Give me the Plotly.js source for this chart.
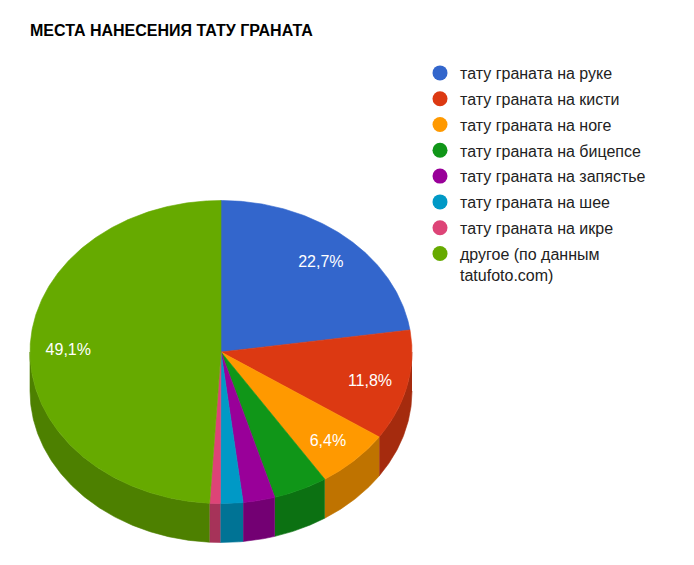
<!DOCTYPE html>
<html>
<head>
<meta charset="utf-8">
<script src="https://cdn.plot.ly/plotly-3.0.1.min.js"></script>
<style>
  html, body { margin: 0; padding: 0; background: #fff; }
  #chart { width: 694px; height: 565px; }
</style>
</head>
<body>
<div id="chart"></div>
<script>
// ---- data ----
const chartTitle = "МЕСТА НАНЕСЕНИЯ ТАТУ ГРАНАТА";
const categories = [
  "тату граната на руке",
  "тату граната на кисти",
  "тату граната на ноге",
  "тату граната на бицепсе",
  "тату граната на запястье",
  "тату граната на шее",
  "тату граната на икре",
  "другое (по данным tatufoto.com)"
];
const values = [22.7, 11.8, 6.4, 4.6, 2.7, 1.9, 0.9, 49.1];

// ---- styles ----
const colors = ["#3366cc", "#dc3912", "#ff9900", "#109618", "#990099", "#0099c6", "#dd4477", "#66aa00"];
const SIDE_FACTOR = 0.75;
const LABEL_MIN = 5;
const CX = 221, CY = 352, RX = 191, RY = 151.5, DEPTH = 39, LABEL_R = 0.8, LABEL_DY = 3;
const FONT = "Liberation Sans, Arial, sans-serif";

function darken(hex, f) {
  const n = parseInt(hex.slice(1), 16);
  const r = Math.round(((n >> 16) & 255) * f), g = Math.round(((n >> 8) & 255) * f), b = Math.round((n & 255) * f);
  return "rgb(" + r + "," + g + "," + b + ")";
}
function pt(t, dy) { return [CX + RX * Math.sin(t), CY - RY * Math.cos(t) + (dy || 0)]; }

const total = values.reduce((a, b) => a + b, 0);
const starts = [], ends = [];
let acc = 0;
values.forEach(v => { starts.push(acc / total * 2 * Math.PI); acc += v; ends.push(acc / total * 2 * Math.PI); });

const sideTraces = [], topTraces = [], legendTraces = [];
const STEP = Math.PI / 360;

values.forEach((v, i) => {
  // side wall (visible front half only)
  const a0 = Math.max(starts[i], Math.PI / 2), a1 = Math.min(ends[i], 3 * Math.PI / 2);
  if (a1 > a0) {
    const xs = [], ys = [];
    for (let t = a0; t < a1; t += STEP) { const p = pt(t); xs.push(p[0]); ys.push(p[1]); }
    let p = pt(a1); xs.push(p[0]); ys.push(p[1]);
    for (let t = a1; t > a0; t -= STEP) { const q = pt(t, DEPTH); xs.push(q[0]); ys.push(q[1]); }
    p = pt(a0, DEPTH); xs.push(p[0]); ys.push(p[1]);
    sideTraces.push({
      type: "scatter", mode: "lines", x: xs, y: ys, fill: "toself",
      fillcolor: darken(colors[i], SIDE_FACTOR),
      line: { color: darken(colors[i], SIDE_FACTOR), width: 0.6 },
      hoverinfo: "skip", showlegend: false
    });
  }
  // top face
  const xs = [CX], ys = [CY];
  for (let t = starts[i]; t < ends[i]; t += STEP) { const p = pt(t); xs.push(p[0]); ys.push(p[1]); }
  const pe = pt(ends[i]); xs.push(pe[0]); ys.push(pe[1]);
  xs.push(CX); ys.push(CY);
  topTraces.push({
    type: "scatter", mode: "lines", x: xs, y: ys, fill: "toself",
    fillcolor: colors[i], line: { color: colors[i], width: 0.6 },
    name: categories[i], text: categories[i], hoverinfo: "text", showlegend: false
  });
  legendTraces.push({
    type: "scatter", mode: "markers", x: [null], y: [null],
    marker: { color: colors[i], size: 15, symbol: "circle" },
    name: categories[i].replace(" tatufoto", "<br>tatufoto"),
    legendgroup: "g" + i, showlegend: true, hoverinfo: "skip"
  });
});

// slice labels
const lx = [], ly = [], lt = [];
values.forEach((v, i) => {
  const mid = (starts[i] + ends[i]) / 2;
  lx.push(CX + LABEL_R * RX * Math.sin(mid));
  ly.push(CY - LABEL_R * RY * Math.cos(mid) + LABEL_DY);
  lt.push(v >= LABEL_MIN ? v.toFixed(1).replace(".", ",") + "%" : "");
});
const labelTrace = {
  type: "scatter", mode: "text", x: lx, y: ly, text: lt,
  textfont: { family: FONT, size: 16, color: "#ffffff" },
  hoverinfo: "skip", showlegend: false
};

const layout = {
  width: 694, height: 565,
  margin: { l: 0, r: 0, t: 0, b: 0 },
  paper_bgcolor: "#ffffff", plot_bgcolor: "#ffffff",
  title: {
    text: "<b>" + chartTitle + "</b>",
    font: { family: FONT, size: 16, color: "#000000" },
    x: 30 / 694, xanchor: "left", xref: "paper",
    y: 1 - 30 / 565, yanchor: "middle", yref: "paper"
  },
  xaxis: { range: [0, 694], visible: false, fixedrange: true },
  yaxis: { range: [565, 0], visible: false, fixedrange: true },
  showlegend: true,
  legend: {
    x: 420 / 694, xanchor: "left", y: 1 - 56 / 565, yanchor: "top",
    font: { family: FONT, size: 16, color: "#222222" },
    traceorder: "grouped", tracegroupgap: 2, valign: "top",
    itemwidth: 30, bgcolor: "rgba(0,0,0,0)"
  },
  hovermode: "closest"
};

Plotly.newPlot("chart", sideTraces.concat(topTraces, [labelTrace], legendTraces), layout, { displayModeBar: false, responsive: false });
</script>
</body>
</html>
